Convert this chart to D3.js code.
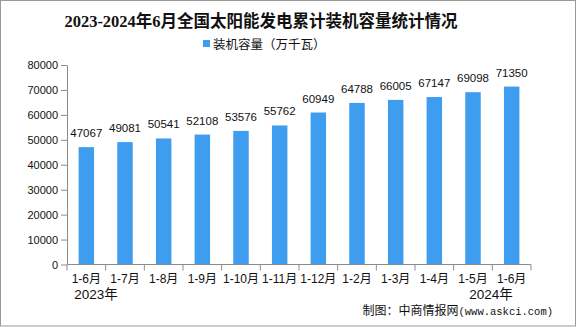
<!DOCTYPE html>
<html><head><meta charset="utf-8">
<script src="https://cdn.jsdelivr.net/npm/d3@7"></script>
<style>body{margin:0;background:#fff}svg{display:block}</style>
</head><body>
<svg id="c" width="576" height="327"></svg>
<script>
const categories = ["1-6月","1-7月","1-8月","1-9月","1-10月","1-11月","1-12月","1-2月","1-3月","1-4月","1-5月","1-6月"];
const values = [47067,49081,50541,52108,53576,55762,60949,64788,66005,67147,69098,71350];
const yTicks = [0,10000,20000,30000,40000,50000,60000,70000,80000];
const yearLabels = ["2023年","2024年"];
const title = "2023-2024年6月全国太阳能发电累计装机容量统计情况";
const legendLabel = "装机容量（万千瓦）";
const sourceCn = "制图：中商情报网";
const sourceEn = "(www.askci.com)";

const svg = d3.select("#c");
const cjk = "'Noto Sans CJK SC', sans-serif";
const mix = "'Liberation Sans', 'Noto Sans CJK SC', sans-serif";
const color = "#3f9df0";
const axisColor = "#8c8c8c";

svg.append("rect").attr("x",0.5).attr("y",0.5).attr("width",575).attr("height",325.5)
  .attr("fill","none").attr("stroke","#9a9a9a");

const x = d3.scaleBand().domain(d3.range(categories.length)).range([67,531]).paddingInner(0.6).paddingOuter(0.3);
const xb = d3.scaleBand().domain(d3.range(categories.length)).range([67,531]);
const y = d3.scaleLinear().domain([0,80000]).range([264.5,65]);

svg.append("text").attr("x",261).attr("y",27).attr("text-anchor","middle")
  .attr("font-family","'Liberation Serif', 'Noto Sans CJK SC', serif").attr("font-weight","bold")
  .attr("font-size",16.5).attr("fill","#111").text(title);

svg.append("rect").attr("x",203).attr("y",40).attr("width",7).attr("height",7).attr("fill",color);
svg.append("text").attr("x",213).attr("y",48.5).attr("font-family",cjk).attr("font-size",12.5).attr("fill","#111").text(legendLabel);

// y axis
const ya = svg.append("g").attr("transform","translate(67,0)")
  .call(d3.axisLeft(y).tickValues(yTicks).tickSize(6).tickSizeOuter(0).tickFormat(d3.format("d")));
ya.select(".domain").attr("stroke",axisColor);
ya.selectAll(".tick line").attr("stroke",axisColor);
ya.selectAll(".tick text").attr("font-family","'Liberation Sans', Arial, sans-serif").attr("font-size",11).attr("fill","#111").attr("x",-9);

// bars
svg.selectAll(".bar").data(values).join("rect").attr("class","bar")
  .attr("x",(d,i)=>x(i)).attr("width",x.bandwidth())
  .attr("y",d=>y(d)).attr("height",d=>y(0)-y(d)).attr("fill",color);

svg.selectAll(".val").data(values).join("text").attr("class","val")
  .attr("x",(d,i)=>x(i)+x.bandwidth()/2).attr("y",d=>y(d)-10)
  .attr("text-anchor","middle").attr("font-family","'Liberation Sans', Arial, sans-serif")
  .attr("font-size",11.5).attr("fill","#111").text(d=>d);

// x axis
const xa = svg.append("g");
xa.append("line").attr("x1",67).attr("x2",531).attr("y1",y(0)).attr("y2",y(0)).attr("stroke",axisColor);
xa.selectAll(".xt").data(d3.range(categories.length+1)).join("line").attr("class","xt")
  .attr("x1",i=>i<categories.length?xb(i):xb(categories.length-1)+xb.bandwidth())
  .attr("x2",i=>i<categories.length?xb(i):xb(categories.length-1)+xb.bandwidth())
  .attr("y1",y(0)).attr("y2",y(0)+6).attr("stroke",axisColor);
xa.selectAll(".xl").data(categories).join("text").attr("class","xl")
  .attr("x",(d,i)=>xb(i)+xb.bandwidth()/2).attr("y",283)
  .attr("text-anchor","middle").attr("font-family",mix).attr("font-size",12).attr("fill","#111").text(d=>d);

svg.append("text").attr("x",96).attr("y",298.5).attr("text-anchor","middle").attr("font-family",mix)
  .attr("font-size",13.5).attr("fill","#111").text(yearLabels[0]);
svg.append("text").attr("x",491).attr("y",298.5).attr("text-anchor","middle").attr("font-family",mix)
  .attr("font-size",13.5).attr("fill","#111").text(yearLabels[1]);

const src = svg.append("text").attr("x",553).attr("y",314.5).attr("text-anchor","end").attr("fill","#111");
src.append("tspan").attr("font-family",cjk).attr("font-size",12).text(sourceCn);
src.append("tspan").attr("font-family","'Liberation Mono', monospace").attr("font-size",10.5).text(sourceEn);
</script>
</body></html>
